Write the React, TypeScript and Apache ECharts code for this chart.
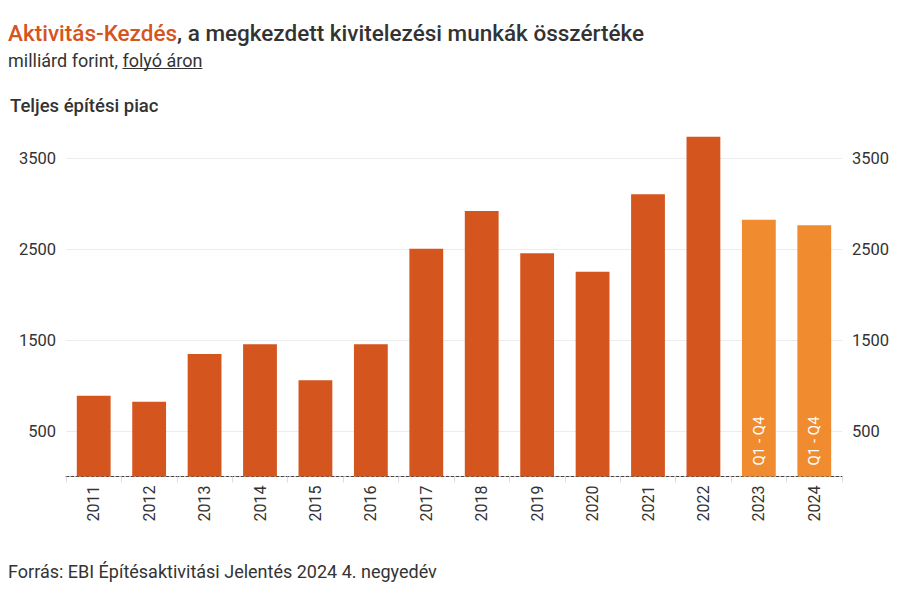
import React, { useEffect, useRef } from "react";
import * as echarts from "echarts";

const years = ["2011", "2012", "2013", "2014", "2015", "2016", "2017", "2018", "2019", "2020", "2021", "2022", "2023", "2024"];
const values = [888, 822, 1346, 1453, 1057, 1453, 2503, 2918, 2453, 2251, 3101, 3734, 2822, 2760];
const partialYears = ["2023", "2024"];
const partialLabel = "Q1 - Q4";
const gridValues = [500, 1500, 2500, 3500];

const titleAccent = "Aktivitás-Kezdés";
const titleRest = ", a megkezdett kivitelezési munkák összértéke";
const subtitleStart = "milliárd forint, ";
const subtitleLink = "folyó áron";
const panelTitle = "Teljes építési piac";
const sourceText = "Forrás: EBI Építésaktivitási Jelentés 2024 4. negyedév";

const DARK = "#d5551f";
const LIGHT = "#f08c2f";
const TEXT = "#333333";
const FONT = "Roboto, 'Noto Sans', sans-serif";

function measure(text: string, font: string): number {
  const c = document.createElement("canvas");
  const ctx = c.getContext("2d");
  if (!ctx) return text.length * 8.2;
  ctx.font = font;
  return ctx.measureText(text).width;
}

export default function App() {
  const ref = useRef<HTMLDivElement>(null);

  useEffect(() => {
    document.body.style.margin = "0";
    if (!ref.current) return;
    const chart = echarts.init(ref.current, null, { renderer: "svg" });

    const subFont = `18px ${FONT}`;
    const ulStart = 8 + measure(subtitleStart, subFont);
    const ulEnd = ulStart + measure(subtitleLink, subFont);

    const data = values.map((v, i) => {
      const partial = partialYears.includes(years[i]);
      return partial
        ? {
            value: v,
            itemStyle: { color: LIGHT },
            label: {
              show: true,
              position: "insideBottom",
              rotate: 90,
              align: "left",
              verticalAlign: "middle",
              distance: 11,
              formatter: partialLabel,
              color: "#ffffff",
              fontSize: 15,
              fontFamily: FONT,
            },
          }
        : { value: v };
    });

    const yAxisCommon = {
      type: "value",
      min: 0,
      max: 4000,
      interval: 500,
      axisLine: { show: false },
      axisTick: { show: false },
      splitLine: { show: false },
      axisLabel: {
        color: TEXT,
        fontSize: 16.5,
        fontFamily: FONT,
        margin: 10,
        formatter: (v: number) => (gridValues.includes(v) ? String(v) : ""),
      },
    };

    chart.setOption({
      animation: false,
      textStyle: { fontFamily: FONT },
      grid: { left: 66, right: 58, top: 112.5, bottom: 123.5, containLabel: false },
      xAxis: {
        type: "category",
        data: years,
        boundaryGap: true,
        axisLine: { show: true, lineStyle: { color: "#444", type: [3, 2], width: 1 } },
        axisTick: { show: true, length: 6, lineStyle: { color: "#dddddd" } },
        axisLabel: { rotate: 90, color: TEXT, fontSize: 16, fontFamily: FONT, margin: 9 },
      },
      yAxis: [
        { ...yAxisCommon, position: "left" },
        { ...yAxisCommon, position: "right" },
      ],
      series: [
        {
          type: "line",
          data: [],
          z: 1,
          silent: true,
          markLine: {
            silent: true,
            z: 1,
            symbol: ["none", "none"],
            label: { show: false },
            lineStyle: { color: "#ececec", type: "solid", width: 1 },
            data: gridValues.map((g) => ({ yAxis: g })),
          },
        },
        {
          type: "bar",
          data,
          z: 3,
          barWidth: "61%",
          itemStyle: { color: DARK },
        },
      ],
      graphic: [
        {
          type: "text",
          x: 8,
          y: 33,
          style: {
            text: `{a|${titleAccent}}{b|${titleRest}}`,
            verticalAlign: "middle",
            rich: {
              a: { fontSize: 22.5, fontWeight: 500, fontFamily: FONT, fill: DARK },
              b: { fontSize: 22.5, fontWeight: 500, fontFamily: FONT, fill: TEXT },
            },
          },
        },
        {
          type: "text",
          x: 8,
          y: 60,
          style: {
            text: subtitleStart + subtitleLink,
            font: subFont,
            fill: TEXT,
            verticalAlign: "middle",
          },
        },
        {
          type: "line",
          shape: { x1: ulStart, y1: 68.5, x2: ulEnd, y2: 68.5 },
          style: { stroke: TEXT, lineWidth: 1 },
        },
        {
          type: "text",
          x: 10,
          y: 106,
          style: {
            text: panelTitle,
            fontSize: 18.5,
            fontWeight: 500,
            fontFamily: FONT,
            fill: TEXT,
            verticalAlign: "middle",
          },
        },
        {
          type: "text",
          x: 8,
          y: 571,
          style: {
            text: sourceText,
            fontSize: 18,
            fontFamily: FONT,
            fill: TEXT,
            verticalAlign: "middle",
          },
        },
      ],
    });

    return () => chart.dispose();
  }, []);

  return <div ref={ref} style={{ width: 900, height: 600 }} />;
}
